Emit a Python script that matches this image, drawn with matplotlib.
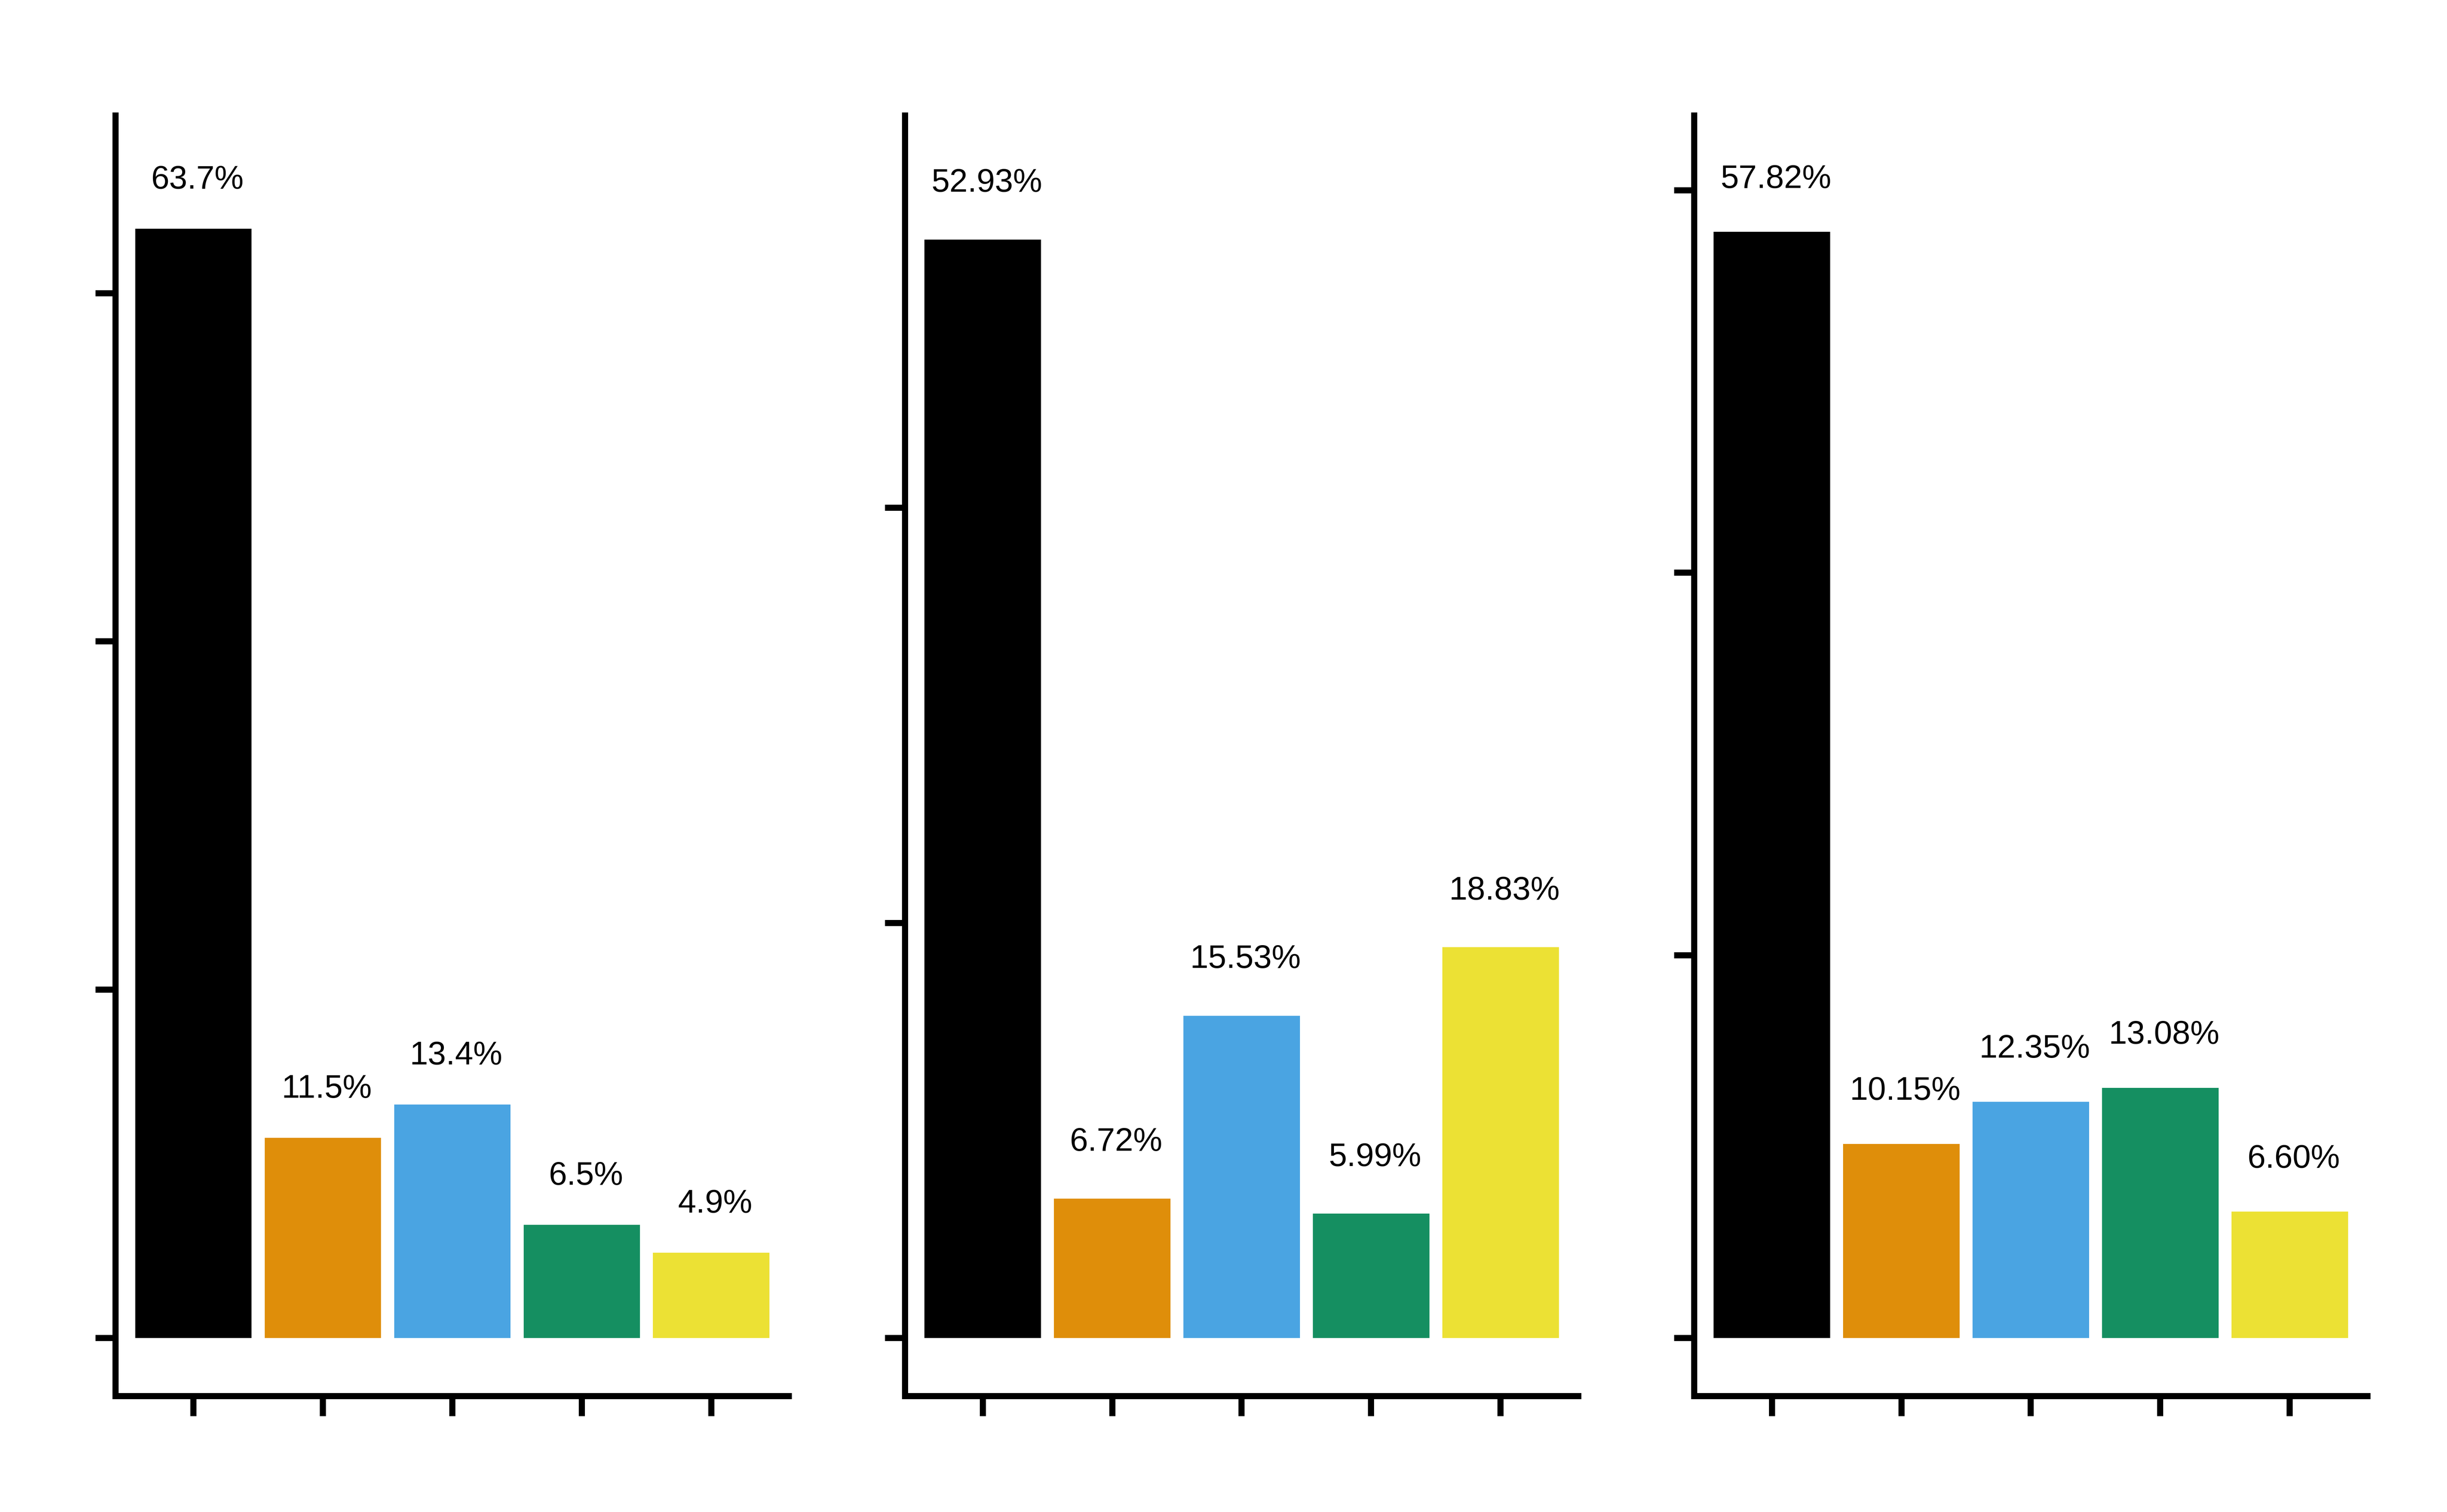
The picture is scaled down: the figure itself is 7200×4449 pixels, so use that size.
import matplotlib
matplotlib.use("Agg")
import matplotlib.pyplot as plt

# data, one list per panel
categories = ["A", "B", "C", "D", "E"]
panel1_values = [63.7, 11.5, 13.4, 6.5, 4.9]
panel2_values = [52.93, 6.72, 15.53, 5.99, 18.83]
panel3_values = [57.82, 10.15, 12.35, 13.08, 6.60]
label_formats = ["{:.1f}%", "{:.2f}%", "{:.2f}%"]
y_ticks = [[0, 20, 40, 60], [0, 20, 40], [0, 20, 40, 60]]
y_tops = [70.2, 58.9, 63.9]

bar_colors = ["#000000", "#DF8E0A", "#4AA4E2", "#158F61", "#ECE134"]

plt.rcParams["font.family"] = ["Liberation Sans", "DejaVu Sans"]

fig = plt.figure(figsize=(16, 4449 / 450), dpi=450)
lefts = [0.04729, 0.36986, 0.69236]
all_values = [panel1_values, panel2_values, panel3_values]

for i in range(3):
    ax = fig.add_axes([lefts[i], 0.07665, 0.27514, 0.84693])
    vals = all_values[i]
    x = list(range(len(categories)))
    bars = ax.bar(x, vals, width=0.9, color=bar_colors, linewidth=0)

    # labels sit a fixed amount (data units) above each bar
    for rect, v in zip(bars, vals):
        ax.text(rect.get_x() + rect.get_width() / 2 + 0.03, v + 2.3,
                label_formats[i].format(v),
                ha="center", va="baseline", fontsize=15.4)

    top = y_tops[i]
    ax.set_ylim(-0.04756 * top, top)
    ax.set_xlim(-0.6, 4.6)
    ax.set_yticks(y_ticks[i])
    ax.set_xticks(x)
    ax.set_xticklabels([])
    ax.set_yticklabels([])

    ax.spines["top"].set_visible(False)
    ax.spines["right"].set_visible(False)
    for s in ["left", "bottom"]:
        ax.spines[s].set_linewidth(2.88)
        ax.spines[s].set_color("black")
    ax.tick_params(direction="out", length=9.4, width=2.88, color="black")
    ax.set_facecolor("white")

fig.savefig("out.png", dpi=450, facecolor="white")
